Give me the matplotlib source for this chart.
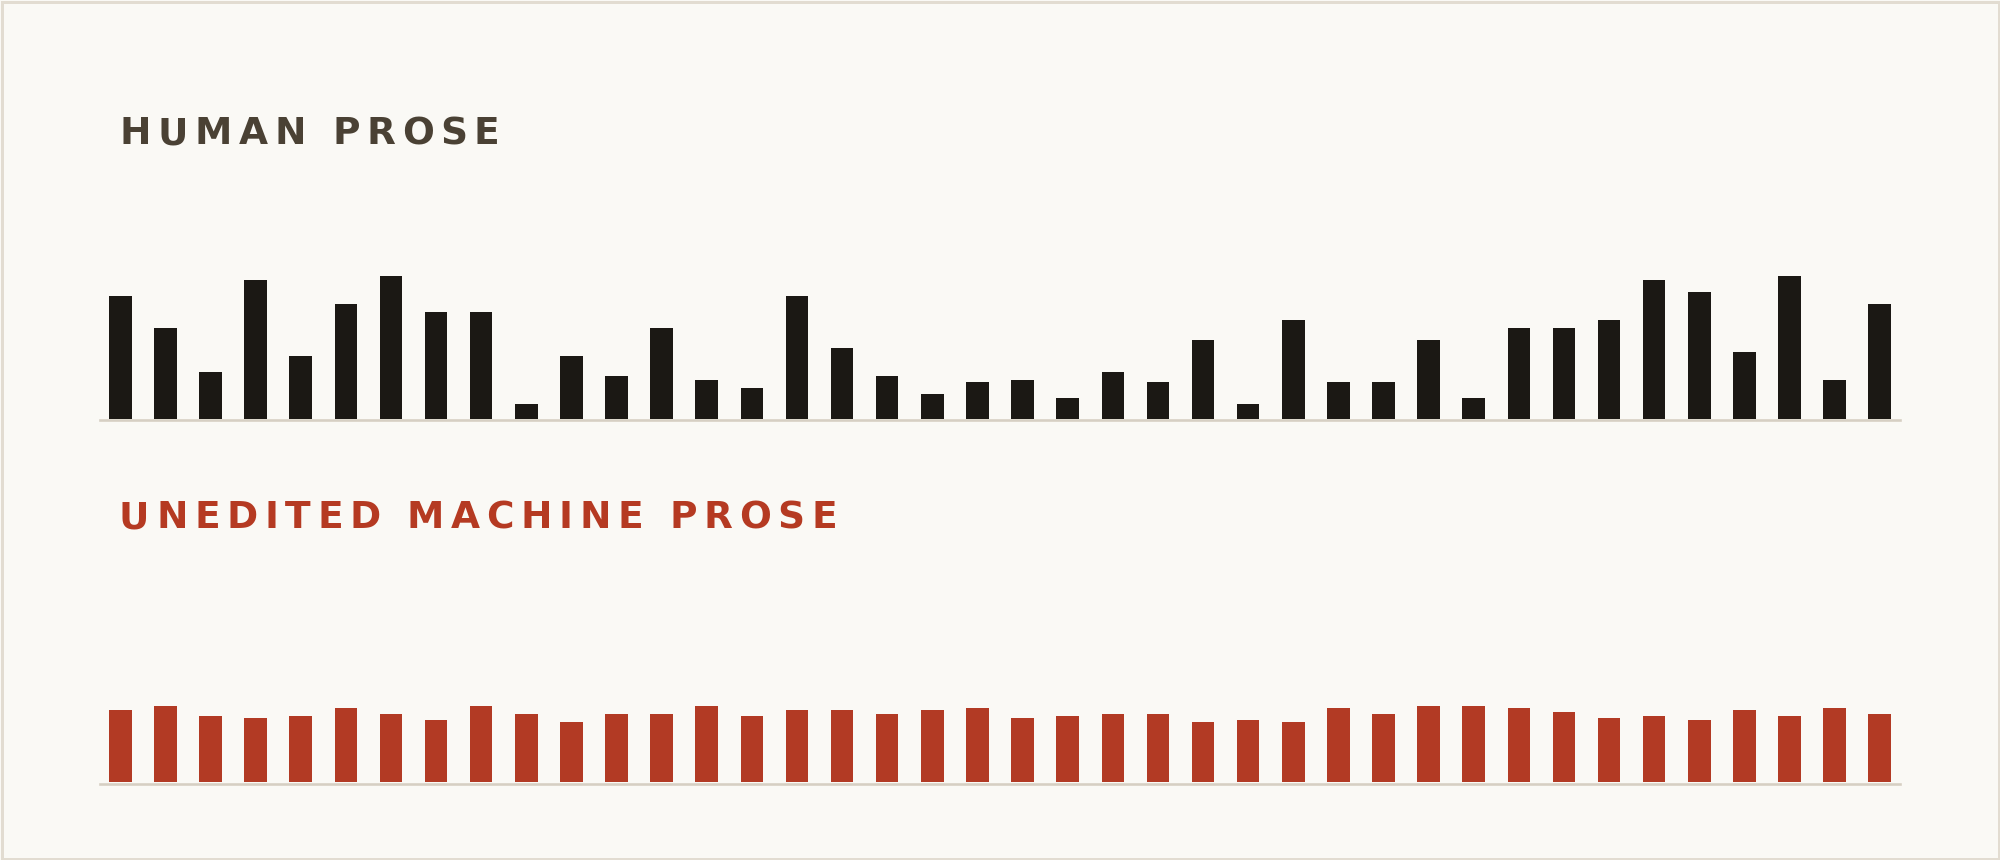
import matplotlib
matplotlib.use("Agg")
import matplotlib.pyplot as plt
from matplotlib.patches import Rectangle
from matplotlib.font_manager import FontProperties, findfont
from matplotlib.ft2font import FT2Font

# sentence lengths (same scale for both rows)
human = [123, 91, 47, 139, 63, 115, 143, 107, 107, 15,
         63, 43, 91, 39, 31, 123, 71, 43, 25, 37,
         39, 21, 47, 37, 79, 15, 99, 37, 37, 79,
         21, 91, 91, 99, 139, 127, 67, 143, 39, 115]
machine = [72, 76, 66, 64, 66, 74, 68, 62, 76, 68,
           60, 68, 68, 76, 66, 72, 72, 68, 72, 74,
           64, 66, 68, 68, 60, 62, 60, 74, 68, 76,
           76, 74, 70, 64, 66, 62, 72, 66, 74, 68]
titles = ["HUMAN PROSE", "UNEDITED MACHINE PROSE"]

W, H = 2000, 860
BG = "#faf9f5"
FRAME = "#e2dcd1"
BASE = "#d6cfc3"
bar_colors = ["#1b1814", "#b23a24"]
title_colors = ["#4a4134", "#b53a22"]

fig = plt.figure(figsize=(W / 100, H / 100), dpi=100)
fig.patch.set_facecolor(BG)

# frame round the whole card
fig.patches.append(Rectangle((1.5 / W, 1.5 / H), 1 - 3 / W, 1 - 3 / H,
                             transform=fig.transFigure, fill=False,
                             edgecolor=FRAME, linewidth=3 * 0.72))


def spaced_text(x_px, y_px, s, size, color, spacing_px):
    # draw letter by letter so the tracking can be widened
    prop = FontProperties(family="DejaVu Sans", weight="bold", size=size)
    font = FT2Font(findfont(prop))
    font.set_size(size, fig.dpi)
    x = x_px
    for ch in s:
        if ch != " ":
            fig.text(x / W, 1 - y_px / H, ch, fontproperties=prop,
                     color=color, ha="left", va="baseline")
        g = font.load_char(ord(ch))
        x += g.linearHoriAdvance / 65536 + spacing_px


def bar_row(baseline_px, values, color):
    ax = fig.add_axes([100 / W, (H - baseline_px) / H, 1800 / W, 150 / H])
    ax.set_facecolor("none")
    ax.bar(range(len(values)), values, width=0.5, color=color, zorder=3)
    ax.axhline(-1.3, color=BASE, linewidth=2.6 * 0.72, clip_on=False, zorder=2)
    ax.set_xlim(-0.45, len(values) - 0.55)
    ax.set_ylim(0, 150)
    ax.axis("off")
    return ax


spaced_text(119.5, 144.3, titles[0], 27, title_colors[0], 6.65)
spaced_text(119, 528.3, titles[1], 27, title_colors[1], 6.65)

bar_row(418.7, human, bar_colors[0])
bar_row(782.3, machine, bar_colors[1])

fig.savefig("out.png", dpi=100, facecolor=BG)
